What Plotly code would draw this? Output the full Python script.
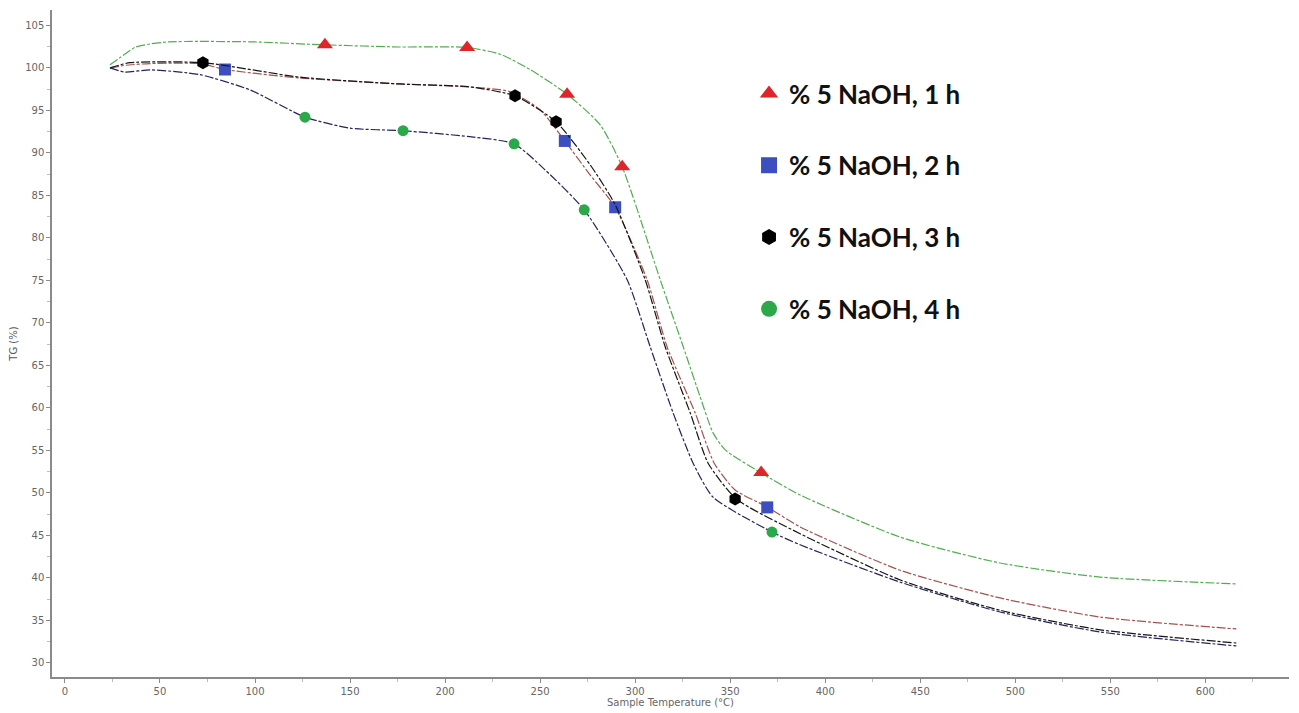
import plotly.graph_objects as go

# ---- data ----
series_names = ["% 5 NaOH, 1 h", "% 5 NaOH, 2 h", "% 5 NaOH, 3 h", "% 5 NaOH, 4 h"]

t_1h = [23.7, 29, 36.8, 44.7, 54.7, 97.4, 136.8, 176, 211.6, 229, 244.7, 264.2, 281.6, 293.2,
        313.2, 325.3, 334.2, 341, 347.4, 366.3, 386.8, 439.5, 492, 544.7, 616.3]
v_1h = [100.35, 101.2, 102.4, 102.8, 103.06, 103.06, 102.7, 102.45, 102.4, 101.6, 99.8, 96.9, 93.3, 88.35,
        75.06, 67.2, 61.3, 57.06, 55.06, 52.35, 49.76, 44.8, 41.76, 40.1, 39.3]

t_2h = [23.7, 32, 44.7, 71, 84.2, 123.7, 176, 211.6, 234, 250, 263, 276.3, 289.5,
        306.3, 316.8, 331.6, 341.6, 352.6, 369.5, 386.8, 439.5, 492, 544.7, 616.3]
v_2h = [100.0, 100.3, 100.5, 100.5, 99.8, 98.8, 98.1, 97.76, 97.2, 95.06, 91.4, 87.4, 83.6,
        75.06, 67.2, 59.4, 53.5, 50.35, 48.35, 46.0, 40.9, 37.65, 35.4, 34.0]

t_3h = [23.7, 34.2, 72.6, 123.7, 176, 213, 236.8, 258.4, 276.3, 289.5,
        305.3, 315.8, 329, 338.4, 353.2, 386.8, 439.5, 492, 544.7, 616.3]
v_3h = [100.0, 100.6, 100.6, 98.9, 98.1, 97.76, 96.7, 93.65, 88.6, 83.9,
        75.06, 67.2, 59.4, 53.5, 49.3, 45.2, 39.76, 36.2, 33.9, 32.35]

t_4h = [23.7, 31.6, 44.7, 71, 97.4, 126.3, 150, 177.9, 213, 236.3, 252.6, 273.2,
        295.8, 307.9, 320, 330.5, 341, 372, 386.8, 439.5, 492, 544.7, 616.3]
v_4h = [100.0, 99.5, 99.76, 99.2, 97.4, 94.2, 92.9, 92.6, 91.9, 91.06, 88.0, 83.3,
        75.06, 67.2, 59.4, 53.5, 49.5, 45.4, 43.9, 39.5, 36.0, 33.65, 32.0]

# marker positions along each curve
mk_t_1h = [136.8, 211.6, 264.2, 293.2, 366.3]
mk_v_1h = [102.7, 102.4, 96.9, 88.35, 52.4]
mk_t_2h = [84.2, 263, 289.5, 369.5]
mk_v_2h = [99.8, 91.4, 83.6, 48.3]
mk_t_3h = [72.6, 236.8, 258.4, 352.6]
mk_v_3h = [100.6, 96.7, 93.65, 49.3]
mk_t_4h = [126.3, 177.9, 236.3, 273.2, 372]
mk_v_4h = [94.2, 92.6, 91.06, 83.3, 45.4]

x_ticks = list(range(0, 601, 50))
y_ticks = list(range(30, 106, 5))

# ---- styles ----
line_colors = ["#4fae4f", "#a8504a", "#151515", "#23235e"]
marker_colors = ["#e0252a", "#3d4fc0", "#000000", "#2aa84a"]
marker_symbols = ["triangle-up", "square", "hexagon", "circle"]
marker_sizes = [14, 12, 13, 11]

curves = [(t_1h, v_1h), (t_2h, v_2h), (t_3h, v_3h), (t_4h, v_4h)]
marks = [(mk_t_1h, mk_v_1h), (mk_t_2h, mk_v_2h), (mk_t_3h, mk_v_3h), (mk_t_4h, mk_v_4h)]

fig = go.Figure()
for i, ((tx, vy), (mx, my)) in enumerate(zip(curves, marks)):
    fig.add_trace(go.Scatter(
        x=tx, y=vy, mode="lines", line=dict(color=line_colors[i], width=1.2, shape="spline",
                                            smoothing=0.6, dash="9px,2px,3px,2px"),
        showlegend=False, hoverinfo="skip"))
    fig.add_trace(go.Scatter(
        x=mx, y=my, mode="markers", name=series_names[i], legendgroup=f"g{i}",
        marker=dict(symbol=marker_symbols[i], color=marker_colors[i], size=marker_sizes[i],
                    line=dict(width=0)),
        showlegend=False))
    # legend entry (bigger symbol)
    fig.add_trace(go.Scatter(
        x=[None], y=[None], mode="markers", name=series_names[i], legendgroup=f"g{i}",
        marker=dict(symbol=marker_symbols[i], color=marker_colors[i], size=16)))

axis_common = dict(
    showgrid=False, zeroline=False, showline=True, linecolor="#8a8a8a", linewidth=1.5,
    ticks="outside", ticklen=4, tickcolor="#8a8a8a", automargin=False,
    tickfont=dict(family="DejaVu Sans", size=10, color="#666666"),
    minor=dict(ticks="outside", ticklen=3, tickcolor="#bbbbbb"),
)

fig.update_xaxes(range=[-6.8, 644], tickvals=x_ticks, ticktext=[str(v) for v in x_ticks],
                 minor_tickvals=list(range(25, 651, 50)),
                 title=dict(text="Sample Temperature (°C)", standoff=0,
                            font=dict(family="DejaVu Sans", size=10, color="#666666")),
                 **axis_common)
fig.update_yaxes(range=[28.35, 106.8], tickvals=y_ticks, ticktext=[str(v) for v in y_ticks],
                 minor_tickvals=[v + 2.5 for v in y_ticks],
                 title=dict(text="TG (%)", standoff=12,
                            font=dict(family="DejaVu Sans", size=10, color="#555555")),
                 **axis_common)

# page body has an 8px default margin, so the figure is sized to fit inside the window
fig.update_layout(
    width=1291, height=705,
    margin=dict(l=44, r=10, t=2, b=36),
    plot_bgcolor="white", paper_bgcolor="white",
    legend=dict(x=0.5635, y=0.91, xanchor="left", yanchor="top",
                font=dict(family="Lato", size=26, color="#111111", weight="bold"),
                tracegroupgap=35, bgcolor="rgba(0,0,0,0)", itemsizing="trace"),
)

fig.write_html("out.html")
